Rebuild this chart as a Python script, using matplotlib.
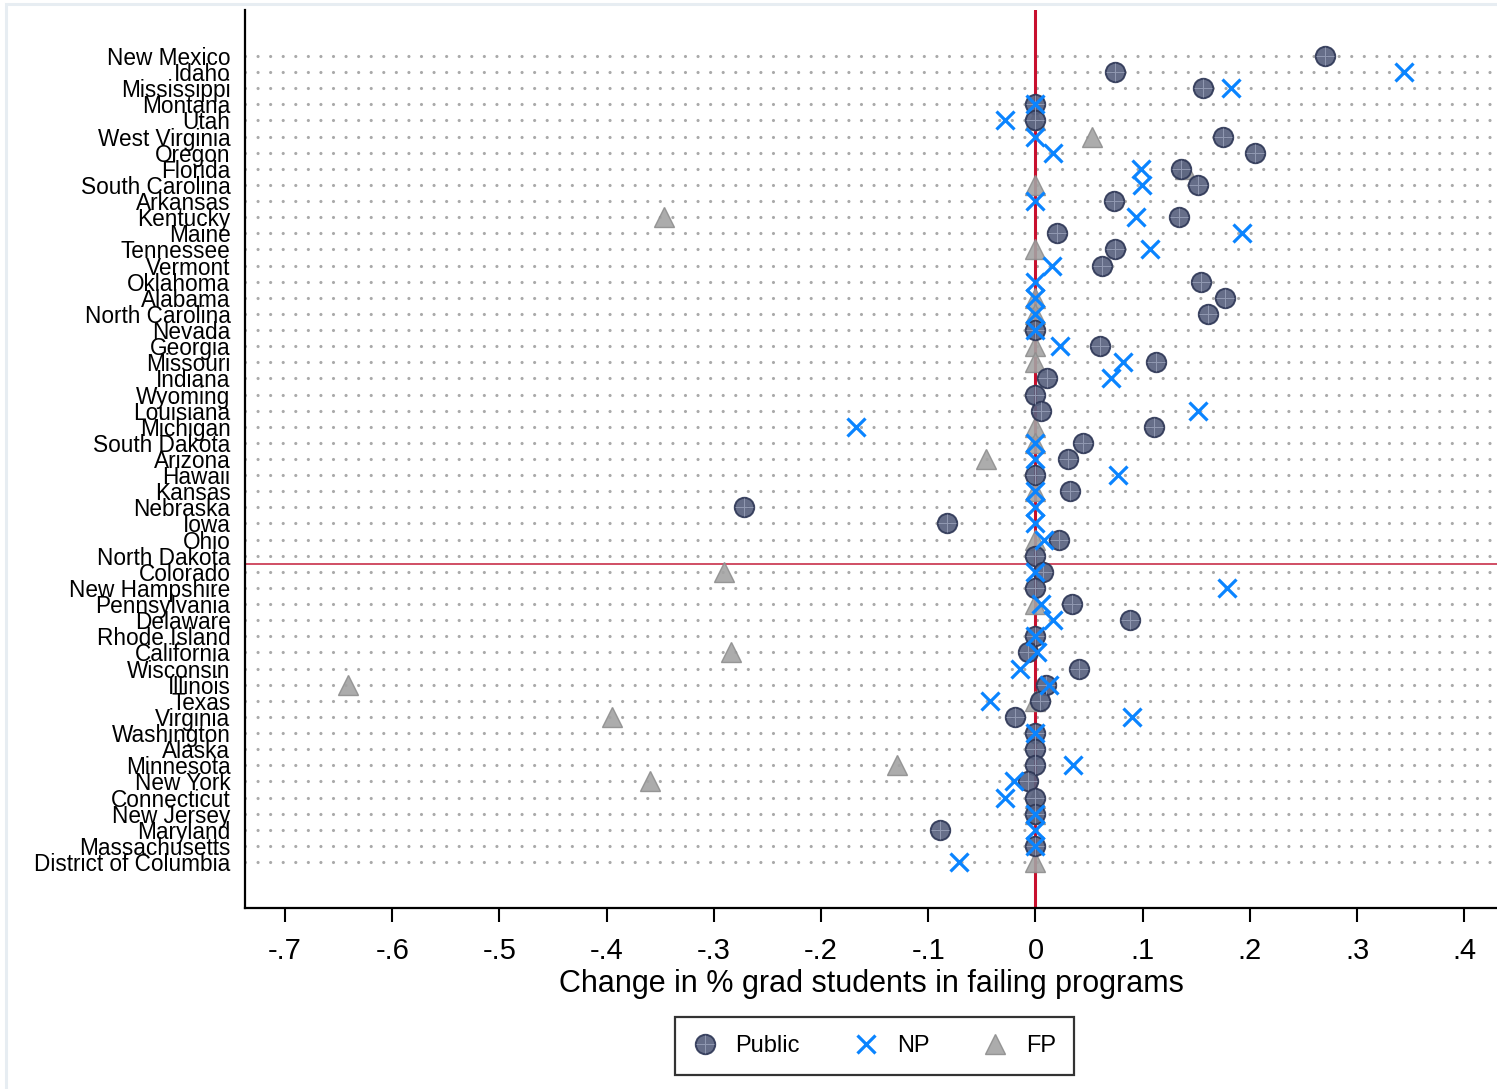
import numpy as np
import matplotlib
matplotlib.use("Agg")
import matplotlib.pyplot as plt
from matplotlib.legend_handler import HandlerTuple
from matplotlib.lines import Line2D
from matplotlib.patches import Rectangle

plt.rcParams["font.family"] = ["Liberation Sans", "DejaVu Sans"]
plt.rcParams["axes.unicode_minus"] = False
plt.rcParams["lines.scale_dashes"] = False

nan = np.nan

states = [
    "New Mexico", "Idaho", "Mississippi", "Montana", "Utah", "West Virginia",
    "Oregon", "Florida", "South Carolina", "Arkansas", "Kentucky", "Maine",
    "Tennessee", "Vermont", "Oklahoma", "Alabama", "North Carolina", "Nevada",
    "Georgia", "Missouri", "Indiana", "Wyoming", "Louisiana", "Michigan",
    "South Dakota", "Arizona", "Hawaii", "Kansas", "Nebraska", "Iowa", "Ohio",
    "North Dakota", "Colorado", "New Hampshire", "Pennsylvania", "Delaware",
    "Rhode Island", "California", "Wisconsin", "Illinois", "Texas", "Virginia",
    "Washington", "Alaska", "Minnesota", "New York", "Connecticut",
    "New Jersey", "Maryland", "Massachusetts", "District of Columbia",
]

public = [
    0.270, 0.074, 0.156, 0.000, 0.000, 0.175,
    0.205, 0.136, 0.152, 0.073, 0.134, 0.020,
    0.074, 0.062, 0.154, 0.177, 0.161, 0.000,
    0.060, 0.112, 0.011, 0.000, 0.005, 0.111,
    0.044, 0.030, 0.000, 0.032, -0.272, -0.083, 0.022,
    0.000, 0.007, 0.000, 0.034, 0.088,
    0.000, -0.007, 0.041, 0.010, 0.004, -0.019,
    0.000, 0.000, 0.000, -0.007, 0.000,
    0.000, -0.089, 0.000, nan,
]

nonprofit = [
    nan, 0.344, 0.182, 0.000, -0.028, 0.000,
    0.016, 0.098, 0.099, 0.000, 0.094, 0.193,
    0.107, 0.015, 0.000, 0.000, 0.000, 0.000,
    0.023, 0.082, 0.070, nan, 0.152, -0.167,
    0.000, 0.000, 0.077, 0.000, 0.000, 0.000, 0.008,
    nan, 0.000, 0.179, 0.005, 0.016,
    0.000, 0.001, -0.014, 0.013, -0.042, 0.090,
    0.000, nan, 0.035, -0.020, -0.028,
    0.000, 0.000, 0.000, -0.071,
]

forprofit = [
    nan, nan, nan, nan, 0.000, 0.0525,
    nan, 0.139, 0.000, nan, -0.347, nan,
    0.000, nan, nan, 0.000, 0.000, nan,
    0.000, 0.000, nan, nan, nan, 0.000,
    0.000, -0.046, nan, 0.000, nan, nan, 0.000,
    nan, -0.291, nan, 0.000, nan,
    nan, -0.284, nan, -0.641, 0.000, -0.395,
    nan, nan, -0.129, -0.360, 0.000,
    0.000, nan, nan, 0.000,
]

xticks = [-0.7, -0.6, -0.5, -0.4, -0.3, -0.2, -0.1, 0.0, 0.1, 0.2, 0.3, 0.4]
split_after = "North Dakota"
xlabel = "Change in % grad students in failing programs"
legend_labels = ["Public", "NP", "FP"]


def stata_fmt(v):
    s = f"{v:.1f}"
    if s in ("0.0", "-0.0"):
        return "0"
    return s.replace("0.", ".")


W, H = 1497, 1089
fig = plt.figure(figsize=(W / 100, H / 100), dpi=100)
fig.patch.set_facecolor("white")

# light outer frame
fig.add_artist(Rectangle((6 / W, -0.05), 1.2, 1.05 - 4 / H,
                         transform=fig.transFigure, fill=False,
                         edgecolor="#e7edf2", linewidth=2.2, zorder=0))

ax = fig.add_axes([245 / W, 1 - 908 / H, (W - 245) / W, (908 - 10) / H])
ax.set_facecolor("white")

x0, x1 = -0.7374, 0.4305
ax.set_xlim(x0, x1)
n = len(states)
rows = np.arange(n)
ax.set_ylim(52.85, -2.85)

# dotted row guides
for r in rows:
    ax.plot([x0, x1], [r, r], color="#a9a9a9", linewidth=2.3,
            linestyle=(0, (0.001, 9.05)), dash_capstyle="round",
            solid_capstyle="round", zorder=1)

# reference lines
ax.axvline(0, color="#c8102e", linewidth=2.2, zorder=2)
ax.axhline(states.index(split_after) + 0.5, color="#c41e3a",
           linewidth=1.1, zorder=2)

pub = np.array(public, dtype=float)
npf = np.array(nonprofit, dtype=float)
fpf = np.array(forprofit, dtype=float)

fp_style = dict(linestyle="none", marker="^", markersize=15,
                markerfacecolor="#a3a3a3", markeredgecolor="#8e8e8e",
                markeredgewidth=1.0, alpha=0.9)
pub_style = dict(linestyle="none", marker="o", markersize=14,
                 markerfacecolor="#59627f", markeredgecolor="#2f3857",
                 markeredgewidth=1.4, alpha=0.92)
cross_style = dict(linestyle="none", marker="+", markersize=12.5,
                   markeredgecolor="#9199b2", markeredgewidth=0.7)
np_style = dict(linestyle="none", marker="x", markersize=13.5,
                markeredgecolor="#0a84ff", markeredgewidth=2.3)

ax.plot(fpf, rows, zorder=3, **fp_style)
ax.plot(pub, rows, zorder=4, **pub_style)
ax.plot(pub, rows, zorder=4.5, **cross_style)
ax.plot(npf, rows, zorder=5, **np_style)

# axes styling
for side in ("top", "right"):
    ax.spines[side].set_visible(False)
for side in ("left", "bottom"):
    ax.spines[side].set_linewidth(1.6)
    ax.spines[side].set_color("black")

ax.set_xticks(xticks)
ax.set_xticklabels([stata_fmt(v) for v in xticks], fontsize=21)
ax.tick_params(axis="x", length=10, width=1.5, pad=11, colors="black")
ax.set_yticks(rows)
ax.set_yticklabels(states, fontsize=16.3)
ax.tick_params(axis="y", length=0, pad=10.5)
ax.set_xlabel(xlabel, fontsize=22, labelpad=3)

h_pub = (Line2D([], [], **pub_style), Line2D([], [], **cross_style))
h_np = Line2D([], [], **np_style)
h_fp = Line2D([], [], **fp_style)

leg = fig.legend([h_pub, h_np, h_fp], legend_labels, ncol=3,
                 loc="center", bbox_to_anchor=(874.5 / W, 1 - 1046 / H),
                 fontsize=17, frameon=True, fancybox=False,
                 handlelength=1.0, handletextpad=0.8, columnspacing=2.3,
                 borderpad=0.75,
                 handler_map={tuple: HandlerTuple(ndivide=1, pad=0)})
leg.get_frame().set_edgecolor("black")
leg.get_frame().set_linewidth(1.6)

fig.savefig("out.png", dpi=100, facecolor="white")
